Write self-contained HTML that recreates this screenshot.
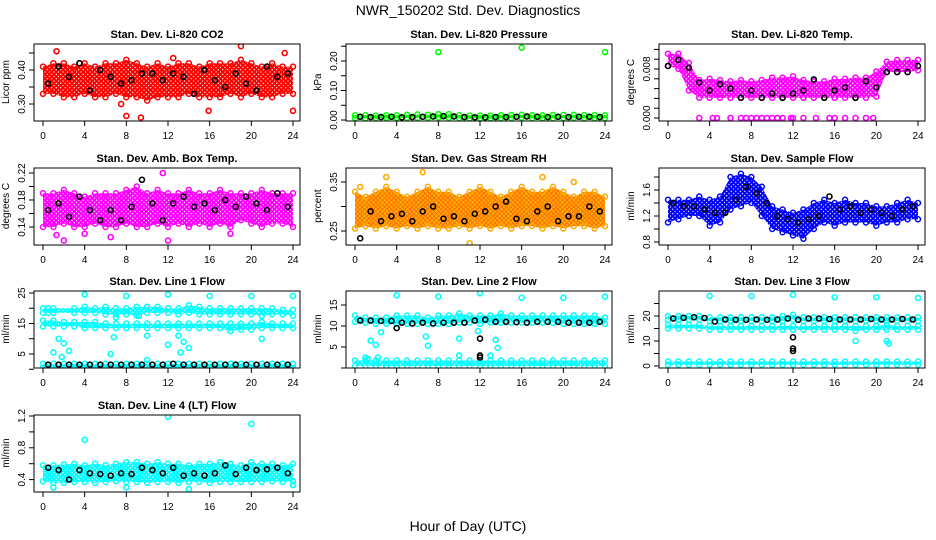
<!DOCTYPE html>
<html><head><meta charset="utf-8"><style>
body{margin:0;background:#fff;}
svg{display:block;font-family:"Liberation Sans",sans-serif;}
</style></head><body>
<svg id="chart" width="936" height="540" xmlns="http://www.w3.org/2000/svg">
<defs id="defs"></defs>
<rect width="936" height="540" fill="#fff"/>
<text x="468" y="15" text-anchor="middle" font-size="14">NWR_150202  Std. Dev. Diagnostics</text>
<text x="468" y="531" text-anchor="middle" font-size="14">Hour of Day (UTC)</text>
</svg>
<script>
const HOURS=[0,1,2,3,4,5,6,7,8,9,10,11,12,13,14,15,16,17,18,19,20,21,22,23,24];
const X_TICKS=[0,4,8,12,16,20,24];
// CO2
const co2Lo=[0.33,0.33,0.32,0.32,0.33,0.32,0.32,0.33,0.32,0.32,0.31,0.32,0.32,0.32,0.33,0.32,0.32,0.32,0.33,0.32,0.33,0.32,0.32,0.33,0.33];
const co2Hi=[0.41,0.42,0.42,0.41,0.42,0.41,0.42,0.42,0.43,0.42,0.41,0.42,0.41,0.42,0.42,0.41,0.42,0.42,0.42,0.43,0.42,0.41,0.42,0.41,0.41];
const co2Black=[0.36,0.41,0.38,0.42,0.34,0.40,0.38,0.36,0.37,0.39,0.39,0.37,0.39,0.38,0.33,0.40,0.37,0.35,0.39,0.36,0.34,0.41,0.38,0.39,0.34];
const co2OutH=[1.3,8,9.4,19,24,7.5,15.9,12.5,23.2];
const co2OutV=[0.455,0.265,0.26,0.47,0.28,0.30,0.28,0.435,0.45];
// Pressure
const presLo=[0.006,0.006,0.006,0.007,0.006,0.007,0.007,0.007,0.008,0.007,0.006,0.006,0.006,0.006,0.006,0.007,0.007,0.006,0.006,0.006,0.006,0.007,0.006,0.006,0.006];
const presHi=[0.016,0.016,0.015,0.016,0.016,0.018,0.019,0.018,0.02,0.02,0.016,0.015,0.015,0.015,0.016,0.017,0.018,0.016,0.016,0.017,0.017,0.018,0.017,0.017,0.016];
const presBlack=[0.011,0.01,0.01,0.011,0.009,0.01,0.011,0.012,0.013,0.012,0.01,0.009,0.009,0.01,0.01,0.011,0.012,0.011,0.01,0.011,0.01,0.011,0.011,0.01,0.011];
const presOutH=[8,16,24];
const presOutV=[0.23,0.245,0.23];
// Li-820 Temp
const ltLo=[0.0085,0.008,0.0045,0.0033,0.0033,0.0033,0.0033,0.0033,0.0033,0.0033,0.0033,0.0033,0.0033,0.0033,0.0033,0.0033,0.0033,0.0033,0.0033,0.0033,0.0035,0.0075,0.0075,0.0075,0.0078];
const ltHi=[0.0105,0.0105,0.009,0.0062,0.0064,0.0062,0.006,0.0062,0.006,0.0062,0.0066,0.0066,0.0068,0.0062,0.006,0.006,0.0064,0.0064,0.0066,0.0066,0.0076,0.0092,0.0095,0.0095,0.0095];
const ltBlack=[0.0085,0.0095,0.0082,0.0058,0.0045,0.0055,0.0048,0.0033,0.0045,0.0033,0.004,0.0033,0.004,0.0045,0.0063,0.0033,0.0045,0.005,0.0033,0.006,0.005,0.0075,0.0075,0.0075,0.0085];
const ltZeroH=[3,4.3,4.7,6,7,7.5,8,8.5,9,9.5,10,10.5,11,11.8,12,13,14.2,15.5,16,17,18,19,19.7];
// Amb box temp
const abLo=[0.14,0.14,0.145,0.14,0.14,0.145,0.14,0.14,0.145,0.14,0.14,0.145,0.14,0.145,0.14,0.145,0.14,0.145,0.14,0.15,0.145,0.14,0.145,0.145,0.14];
const abHi=[0.19,0.19,0.195,0.19,0.185,0.19,0.19,0.19,0.195,0.2,0.19,0.195,0.19,0.19,0.195,0.19,0.19,0.195,0.19,0.19,0.19,0.195,0.19,0.19,0.19];
const abBlack=[0.165,0.175,0.155,0.185,0.165,0.15,0.165,0.15,0.17,0.21,0.175,0.15,0.175,0.185,0.17,0.175,0.165,0.18,0.17,0.185,0.175,0.165,0.19,0.17,0.155];
const abOutH=[2,6.5,11.5,12,18,4,1.3];
const abOutV=[0.12,0.125,0.22,0.12,0.13,0.13,0.128];
// RH
const rhLo=[0.255,0.26,0.255,0.26,0.255,0.26,0.255,0.26,0.255,0.255,0.26,0.255,0.26,0.255,0.26,0.255,0.26,0.26,0.255,0.26,0.255,0.26,0.26,0.255,0.26];
const rhHi=[0.33,0.32,0.33,0.34,0.33,0.32,0.33,0.34,0.33,0.33,0.32,0.33,0.34,0.33,0.32,0.33,0.34,0.33,0.33,0.34,0.33,0.32,0.33,0.33,0.32];
const rhBlack=[0.235,0.29,0.27,0.28,0.285,0.27,0.29,0.30,0.275,0.28,0.27,0.285,0.29,0.30,0.31,0.275,0.27,0.29,0.30,0.27,0.28,0.28,0.30,0.29,0.285];
const rhOutH=[6.5,11,0.5,18,3,21];
const rhOutV=[0.37,0.225,0.34,0.36,0.36,0.35];
// Sample flow
const sfLo=[1.1,1.15,1.2,1.2,1.05,1.1,1.3,1.35,1.4,1.2,1.0,0.95,0.9,0.85,1.0,1.1,1.05,1.1,1.1,1.1,1.05,1.1,1.1,1.15,1.15];
const sfHi=[1.45,1.45,1.45,1.5,1.45,1.5,1.8,1.85,1.8,1.65,1.35,1.3,1.25,1.3,1.4,1.45,1.4,1.45,1.4,1.4,1.35,1.35,1.4,1.45,1.4];
const sfBlack=[1.4,1.35,1.35,1.3,1.25,1.25,1.45,1.65,1.55,1.4,1.2,1.15,1.1,1.15,1.2,1.5,1.3,1.35,1.25,1.3,1.25,1.2,1.3,1.35,1.3];
// Line 1
const l1UpH=[0,0.5,1,3,4,5,6,7,8,9,10,11,12,13,14,15,16,17,18,19,20,21,22,23,24];
const l1UpLo=[18.5,18.5,18.5,18.5,18.5,18.5,18,18,18,17.5,18.5,18.5,18.5,18,18.5,18,18,18,18,18,18,17.5,18,18,17.5];
const l1UpHi=[20,20,20,20,20.5,20,20.5,20,20,20.5,20.5,20.5,20,20,21,20.5,20,20,20,20,20,20,20,19.5,19.5];
const l1MidLo=[14,14,14,14,13.5,13.5,13.5,13.5,13.5,13.5,13.5,13.5,13.5,13.5,13.5,13.5,13.5,13.5,12.5,13,13,13.5,13.5,13.5,13.5];
const l1MidHi=[16,16,15.5,15.5,15.5,15.5,15,15,15,15,15,15,15,15,15,15,15,15,15,15,15,15.5,15,15,15];
const l1LowLo=[0.5,0.5,0.5,0.5,0.5,0.5,0.5,0.5,0.5,0.5,0.5,0.5,0.5,0.5,0.5,0.5,0.5,0.5,0.5,0.5,0.5,0.5,0.5,0.5,0.5];
const l1LowHi=[1.8,1.8,1.8,1.8,1.8,1.8,1.8,1.8,1.8,1.8,1.8,1.8,1.8,1.8,1.8,1.8,1.8,1.8,1.8,1.8,1.8,1.8,1.8,1.8,1.8];
const l1Black=[1.5,1.5,1.5,1.5,1.5,1.5,1.5,1.5,1.5,1.5,1.5,1.5,1.8,1.5,1.5,1.5,1.5,1.5,1.5,1.5,1.5,1.5,1.5,1.5,1.5];
const l1OutH=[4,8,12,16,20,24,1.5,2,1,1.8,2.5,6.8,6.5,12,13.5,13.2,10,21,13,10,14,7,9.2];
const l1OutV=[24.5,24,24.5,24,24,24,10,8.5,5.5,4,6,10.5,5,8,9,5.5,11,10,11,3,7,17,17.5];
// Line 2
const l2UpLo=[11,10.8,10.5,10.5,10.5,10.5,10.5,10.5,10.5,10.5,10.8,10.8,10.5,10.8,10.8,10.8,10.8,10.8,10.8,10.8,10.5,10.5,10.5,10.5,10.5];
const l2UpHi=[12.5,12,12,12,12.5,12.5,12.5,12,12.5,12.5,13,12.5,12.5,12.5,13,12.5,12.5,12.5,12.5,12.5,12.5,12.5,12.5,12.5,12];
const l2Black=[11.3,11.3,11.2,11.2,10.8,10.6,10.8,10.6,10.8,10.8,10.8,11.3,11.5,11,11,10.9,10.8,11,11,11,10.8,10.8,10.8,11,11];
const l2OutH=[4,8,12,16,20,24,1.5,2,2.5,6.8,7,10,11.8,13.5,13.7,10,13,1,1.2,2.2];
const l2OutV=[17.3,17,17.8,16.7,16.7,17,6.5,5.5,8.5,7.5,5.3,7,8.8,6.7,4.8,3,3,2.5,2.2,2.5];
const l2BlackOutH=[12,12,12,4];
const l2BlackOutV=[7,3,2.5,9.5];
// Line 3
const l3UpLo=[18.5,18.5,18.5,18.5,18,18,18,18,18,18,18,18,18.5,18,18,18,18,18,18,18,18,18,18,18,18];
const l3UpHi=[20,20,20,20,19.5,19.5,19.5,19.5,19.5,19.5,19.5,20,20.5,19.5,19.5,19.5,19.5,19.5,19.5,19.5,19.5,19.5,19.5,19.5,19.5];
const l3MidLo=[15,15,15,15,14.5,14.5,14.5,14.5,14.5,14.5,14.5,14.5,14.5,14.5,14.5,14.5,14.5,14.5,14,14.5,14.5,14.5,14.5,14.5,14.5];
const l3MidHi=[16.5,16.5,16.5,16.5,16,16,16,16,16,16,16,16,16,16,16,16,16,16,16,16,16,16.5,16,16,16];
const l3Black=[19,19.3,19.5,19.2,17.8,18.6,18.5,18.5,18.6,18.5,18.6,19,18.5,19,19,18.8,18.6,18.6,18.6,18.8,18.6,18.6,18.8,18.6,18.8];
const l3OutH=[4,8,12,16,20,24,18,21,21.2];
const l3OutV=[28,28,28.5,27.5,27.5,27.2,10,10,9];
const l3BlackOutH=[12,12,12];
const l3BlackOutV=[11.5,7,6];
// Line 4 LT
const l4Lo=[0.38,0.36,0.36,0.37,0.37,0.36,0.37,0.38,0.37,0.37,0.36,0.37,0.37,0.36,0.37,0.37,0.36,0.37,0.37,0.37,0.37,0.37,0.38,0.37,0.38];
const l4Hi=[0.58,0.58,0.59,0.6,0.58,0.6,0.58,0.6,0.62,0.62,0.6,0.62,0.6,0.6,0.58,0.6,0.6,0.62,0.6,0.58,0.62,0.6,0.6,0.58,0.6];
const l4Black=[0.55,0.52,0.4,0.52,0.48,0.47,0.45,0.48,0.47,0.55,0.52,0.48,0.55,0.45,0.48,0.45,0.48,0.58,0.47,0.55,0.52,0.53,0.55,0.48,0.52];
const l4OutH=[4,12,20,1,14,8,24];
const l4OutV=[0.9,1.19,1.1,0.3,0.28,0.3,0.33];

const svg=document.getElementById('chart');
const defs=document.getElementById('defs');
const NS='http://www.w3.org/2000/svg';
function mk(tag,attrs,parent){const e=document.createElementNS(NS,tag);for(const k in attrs)e.setAttribute(k,attrs[k]);(parent||svg).appendChild(e);return e;}
let patN=0;
function pattern(color,bg,sw){
  const id='pat'+(patN++);
  const S=4.5;
  const p=mk('pattern',{id:id,width:S,height:S,patternUnits:'userSpaceOnUse'},defs);
  mk('rect',{width:S,height:S,fill:bg||'#fff'},p);
  [[S/2,S/2],[0,0],[S,0],[0,S],[S,S]].forEach(c=>{
    mk('circle',{cx:c[0],cy:c[1],r:1.9,fill:'none',stroke:color,'stroke-width':sw||1.5},p);
  });
  return 'url(#'+id+')';
}

function panel(cfg){
  const g=mk('g',{});
  
  
  const L=cfg.x,T=cfg.y,R=L+266,B=T+77;
  const xs=h=>L+9+h*(250/24);
  const ys=v=>cfg.y0+(v-cfg.v0)*(cfg.y1-cfg.y0)/(cfg.v1-cfg.v0);
  const clip='c'+cfg.name;
  const cp=mk('clipPath',{id:clip},g);mk('rect',{x:L,y:T,width:266,height:77},cp);
  const plot=mk('g',{'clip-path':'url(#'+clip+')'},g);
  const fillPat=pattern(cfg.color,cfg.bg,cfg.sw);
  (cfg.bands||[]).forEach(b=>{
    let d='';
    b.h.forEach((h,i)=>{d+=(i?'L':'M')+xs(h)+','+ys(b.hi[i]);});
    for(let i=b.h.length-1;i>=0;i--)d+='L'+xs(b.h[i])+','+ys(b.lo[i]);
    const p=mk('path',{d:d+'Z',fill:fillPat,stroke:'none'},plot);
    
    
    b.h.forEach((h,i)=>{
      [b.lo[i],b.hi[i]].forEach(v=>{
        const c=mk('circle',{cx:xs(h),cy:ys(v),r:2.5,fill:'none',stroke:cfg.edge||cfg.color,'stroke-width':1.5},plot);
        
        
      });
    });
  });
  (cfg.pts||[]).forEach(s=>{
    s.h.forEach((h,i)=>{
      const c=mk('circle',{cx:xs(h),cy:ys(s.v[i]),r:2.5,fill:'none',stroke:s.color,'stroke-width':1.6},plot);
      
      
    });
  });
  mk('rect',{x:L,y:T,width:266,height:77,fill:'none',stroke:'#000','stroke-width':1},g);
  const t=mk('text',{x:L+133,y:T-6,'text-anchor':'middle','font-size':11,'font-weight':'bold'},g);t.textContent=cfg.title;
  
  
  X_TICKS.forEach(h=>{
    mk('line',{x1:xs(h),x2:xs(h),y1:B,y2:B+5,stroke:'#000'},g);
    const tx=mk('text',{x:xs(h),y:B+18,'text-anchor':'middle','font-size':10},g);tx.textContent=h;
    
    
  });
  cfg.ticks.forEach(v=>{mk('line',{x1:L-5,x2:L,y1:ys(v),y2:ys(v),stroke:'#000'},g);});
  cfg.labels.forEach((lab,i)=>{
    const yy=ys(cfg.labelVals[i]);
    const tx=mk('text',{x:L-9,y:yy,'text-anchor':'middle','font-size':10,transform:'rotate(-90 '+(L-9)+' '+yy+')'},g);tx.textContent=lab;
    
    
  });
  const yt=mk('text',{x:L-25,y:T+38,'text-anchor':'middle','font-size':10,transform:'rotate(-90 '+(L-25)+' '+(T+38)+')'},g);yt.textContent=cfg.ylab;
  
  
}
const BH=HOURS.map(h=>h+0.5);
panel({name:'panel-co2',x:34,y:44,title:'Stan. Dev. Li-820 CO2',ylab:'Licor ppm',color:'#ff0000',v0:0.30,y0:104,v1:0.40,y1:70,
 ticks:[0.30,0.35,0.40,0.45],labels:['0.30','0.40'],labelVals:[0.30,0.40],
 bands:[{h:HOURS,lo:co2Lo,hi:co2Hi}],
 pts:[{h:co2OutH,v:co2OutV,color:'#ff0000',label:'outlier-point'},{h:BH.slice(0,24),v:co2Black,color:'#000',label:'hourly-point'}]});
panel({name:'panel-pressure',x:346,y:44,title:'Stan. Dev. Li-820 Pressure',ylab:'kPa',color:'#00ff00',v0:0,y0:120,v1:0.2,y1:61,
 ticks:[0,0.05,0.1,0.15,0.2,0.25],labels:['0.00','0.10','0.20'],labelVals:[0,0.1,0.2],
 bands:[{h:HOURS,lo:presLo,hi:presHi}],
 pts:[{h:presOutH,v:presOutV,color:'#00ff00',label:'outlier-point'},{h:BH.slice(0,24),v:presBlack,color:'#000',label:'hourly-point'}]});
panel({name:'panel-li820-temp',x:659,y:44,title:'Stan. Dev. Li-820 Temp.',ylab:'degrees C',color:'#ff00ff',v0:0,y0:118,v1:0.008,y1:69,
 ticks:[0,0.0016,0.0032,0.0048,0.0064,0.008,0.0096,0.0112],labels:['0.000','0.008'],labelVals:[0,0.008],
 bands:[{h:HOURS,lo:ltLo,hi:ltHi}],
 pts:[{h:ltZeroH,v:ltZeroH.map(()=>0),color:'#ff00ff',label:'zero-point'},{h:HOURS,v:ltBlack,color:'#000',label:'hourly-point'}]});
panel({name:'panel-amb-box-temp',x:34,y:168,title:'Stan. Dev. Amb. Box Temp.',ylab:'degrees C',color:'#ff00ff',v0:0.14,y0:227,v1:0.22,y1:173,
 ticks:[0.14,0.16,0.18,0.20,0.22],labels:['0.14','0.18','0.22'],labelVals:[0.14,0.18,0.22],
 bands:[{h:HOURS,lo:abLo,hi:abHi}],
 pts:[{h:abOutH,v:abOutV,color:'#ff00ff',label:'outlier-point'},{h:BH.slice(0,24),v:abBlack,color:'#000',label:'hourly-point'}]});
panel({name:'panel-gas-rh',x:346,y:168,title:'Stan. Dev. Gas Stream RH',ylab:'percent',color:'#ff5000',bg:'#ffb000',sw:0.4,edge:'#ffaa00',v0:0.25,y0:231,v1:0.35,y1:182,
 ticks:[0.25,0.30,0.35],labels:['0.25','0.35'],labelVals:[0.25,0.35],
 bands:[{h:HOURS,lo:rhLo,hi:rhHi}],
 pts:[{h:rhOutH,v:rhOutV,color:'#ffaa00',label:'outlier-point'},{h:BH.slice(0,24),v:rhBlack,color:'#000',label:'hourly-point'}]});
panel({name:'panel-sample-flow',x:659,y:168,title:'Stan. Dev. Sample Flow',ylab:'ml/min',color:'#0000ff',v0:0.8,y0:242,v1:1.6,y1:190,
 ticks:[0.8,1.0,1.2,1.4,1.6,1.8],labels:['0.8','1.2','1.6'],labelVals:[0.8,1.2,1.6],
 bands:[{h:HOURS,lo:sfLo,hi:sfHi}],
 pts:[{h:BH.slice(0,24),v:sfBlack,color:'#000',label:'hourly-point'}]});
panel({name:'panel-line1-flow',x:34,y:291,title:'Stan. Dev. Line 1 Flow',ylab:'ml/min',color:'#00ffff',v0:5,y0:354,v1:25,y1:293,
 ticks:[0,5,10,15,20,25],labels:['5','15','25'],labelVals:[5,15,25],
 bands:[{h:l1UpH,lo:l1UpLo,hi:l1UpHi},{h:HOURS,lo:l1MidLo,hi:l1MidHi},{h:HOURS,lo:l1LowLo,hi:l1LowHi}],
 pts:[{h:l1OutH,v:l1OutV,color:'#00ffff',label:'outlier-point'},{h:BH.slice(0,24),v:l1Black,color:'#000',label:'hourly-point'}]});
panel({name:'panel-line2-flow',x:346,y:291,title:'Stan. Dev. Line 2 Flow',ylab:'ml/min',color:'#00ffff',v0:5,y0:347,v1:15,y1:305,
 ticks:[0,5,10,15],labels:['5','10','15'],labelVals:[5,10,15],
 bands:[{h:HOURS,lo:l2UpLo,hi:l2UpHi},{h:HOURS,lo:l1LowLo,hi:l1LowHi}],
 pts:[{h:l2OutH,v:l2OutV,color:'#00ffff',label:'outlier-point'},{h:BH.slice(0,24),v:l2Black,color:'#000',label:'hourly-point'},{h:l2BlackOutH,v:l2BlackOutV,color:'#000',label:'black-outlier'}]});
panel({name:'panel-line3-flow',x:659,y:291,title:'Stan. Dev. Line 3 Flow',ylab:'ml/min',color:'#00ffff',v0:0,y0:366,v1:20,y1:316,
 ticks:[0,5,10,15,20,25],labels:['0','10','20'],labelVals:[0,10,20],
 bands:[{h:HOURS,lo:l3UpLo,hi:l3UpHi},{h:HOURS,lo:l3MidLo,hi:l3MidHi},{h:HOURS,lo:l1LowLo,hi:l1LowHi}],
 pts:[{h:l3OutH,v:l3OutV,color:'#00ffff',label:'outlier-point'},{h:BH.slice(0,24),v:l3Black,color:'#000',label:'hourly-point'},{h:l3BlackOutH,v:l3BlackOutV,color:'#000',label:'black-outlier'}]});
panel({name:'panel-line4-flow',x:34,y:415,title:'Stan. Dev. Line 4 (LT) Flow',ylab:'ml/min',color:'#00ffff',v0:0.4,y0:479.6,v1:1.2,y1:416,
 ticks:[0.4,0.6,0.8,1.0,1.2],labels:['0.4','0.8','1.2'],labelVals:[0.4,0.8,1.2],
 bands:[{h:HOURS,lo:l4Lo,hi:l4Hi}],
 pts:[{h:l4OutH,v:l4OutV,color:'#00ffff',label:'outlier-point'},{h:BH.slice(0,24),v:l4Black,color:'#000',label:'hourly-point'}]});
</script>
</body></html>
